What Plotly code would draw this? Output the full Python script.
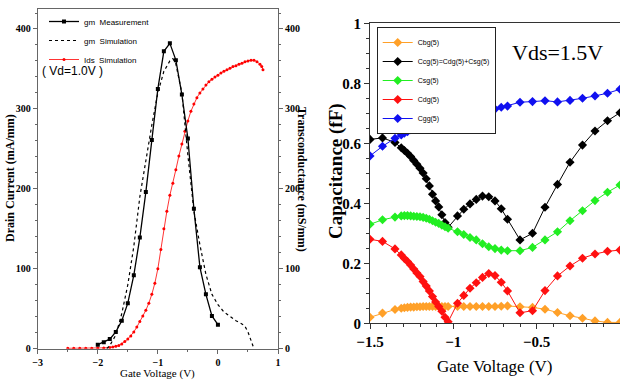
import plotly.graph_objects as go

# ---------------- Left panel data ----------------
gm_meas_v = [-2.0, -1.9, -1.8, -1.7, -1.6, -1.5, -1.4, -1.3, -1.2, -1.1, -1.0,
             -0.9, -0.8, -0.7, -0.6, -0.5, -0.4, -0.3, -0.2, -0.1, 0.0]
gm_meas = [5, 8, 12, 21, 35, 57, 92, 139, 196, 261, 325,
           372, 382, 361, 318, 263, 175, 102, 68, 41, 30]

gm_sim_v = [-1.85, -1.8, -1.7, -1.6, -1.5, -1.4, -1.3, -1.2, -1.1, -1.0, -0.9,
            -0.8, -0.75, -0.7, -0.65, -0.6, -0.5, -0.4, -0.3, -0.2, -0.1, 0.0,
            0.1, 0.2, 0.3, 0.4, 0.45, 0.5, 0.55, 0.6]
gm_sim = [0, 4, 17, 44, 80, 128, 190, 236, 280, 320, 347,
          360, 363, 356, 340, 320, 242, 172, 130, 93, 68, 55,
          46, 40, 35, 31, 28, 21, 10, 0]

ids_v = [-2.5, -2.4, -2.3, -2.2, -2.1, -2.0, -1.9, -1.8, -1.75, -1.7, -1.65,
         -1.6, -1.55, -1.5, -1.45, -1.4, -1.35, -1.3, -1.25, -1.2, -1.15,
         -1.1, -1.05, -1.0, -0.95, -0.9, -0.85, -0.8, -0.75, -0.7, -0.65,
         -0.6, -0.55, -0.5, -0.45, -0.4, -0.35, -0.3, -0.25, -0.2, -0.15,
         -0.1, -0.05, 0.0, 0.05, 0.1, 0.15, 0.2, 0.25, 0.3, 0.35, 0.4,
         0.45, 0.5, 0.55, 0.6, 0.65, 0.7, 0.73, 0.75]
ids = [0.5, 0.5, 0.5, 0.5, 0.6, 0.8, 1, 1.5, 2, 3, 4,
       6, 9, 12, 16, 21, 27, 34, 41, 48, 57,
       68, 82, 100, 124, 150, 172, 192, 207, 224, 241,
       256, 272, 285, 297, 306, 314, 320, 325, 330, 334,
       337, 340, 342, 345, 347, 349, 351, 353, 354, 356, 357,
       359, 360, 361, 361, 359, 356, 353, 349]

# ---------------- Right panel data ----------------
vg = [-1.5, -1.425, -1.35, -1.3125, -1.29375, -1.275, -1.25625, -1.2375,
      -1.21875, -1.2, -1.18125, -1.1625, -1.14375, -1.125, -1.10625,
      -1.0875, -1.06875, -1.05, -1.03125, -0.975, -0.9375, -0.9, -0.8625,
      -0.825, -0.7875, -0.75, -0.7125, -0.675, -0.6, -0.525, -0.45, -0.375,
      -0.3, -0.225, -0.15, -0.075, 0.0]

cbg = [0.02, 0.034, 0.046, 0.05, 0.052, 0.053, 0.054, 0.054,
       0.055, 0.055, 0.056, 0.056, 0.056, 0.056, 0.056,
       0.056, 0.056, 0.056, 0.056, 0.056, 0.056, 0.056, 0.056,
       0.056, 0.056, 0.056, 0.057, 0.058, 0.055, 0.053, 0.047, 0.036,
       0.025, 0.017, 0.008, 0.003, 0.003]
ccg = [0.613, 0.618, 0.603, 0.585, 0.576, 0.567, 0.556, 0.543,
       0.53, 0.517, 0.501, 0.482, 0.458, 0.43, 0.408,
       0.388, 0.362, 0.336, 0.32, 0.358, 0.38, 0.398, 0.413,
       0.424, 0.422, 0.408, 0.382, 0.347, 0.278, 0.3, 0.387, 0.463,
       0.537, 0.594, 0.641, 0.675, 0.702]
csg = [0.33, 0.345, 0.354, 0.358, 0.359, 0.359, 0.358, 0.357,
       0.356, 0.355, 0.353, 0.35, 0.347, 0.342, 0.337,
       0.333, 0.327, 0.322, 0.317, 0.305, 0.296, 0.286, 0.278,
       0.265, 0.255, 0.249, 0.244, 0.242, 0.242, 0.253, 0.278, 0.305,
       0.342, 0.375, 0.409, 0.437, 0.461]
cdg = [0.28, 0.273, 0.248, 0.228, 0.216, 0.206, 0.194, 0.181,
       0.168, 0.156, 0.139, 0.124, 0.108, 0.089, 0.071,
       0.056, 0.04, 0.02, 0.005, 0.067, 0.093, 0.117, 0.135,
       0.153, 0.166, 0.159, 0.137, 0.108, 0.035, 0.042, 0.109, 0.158,
       0.191, 0.217, 0.231, 0.24, 0.244]
cgg = [0.558, 0.59, 0.617, 0.628, 0.634, 0.639, 0.645, 0.65,
       0.654, 0.658, 0.662, 0.665, 0.667, 0.67, 0.673,
       0.675, 0.678, 0.68, 0.683, 0.688, 0.691, 0.696, 0.7,
       0.703, 0.708, 0.714, 0.72, 0.724, 0.737, 0.739, 0.742, 0.738,
       0.743, 0.75, 0.758, 0.767, 0.78]

cap_names = ["Cbg(5)", "Ccg(5)=Cdg(5)+Csg(5)", "Csg(5)", "Cdg(5)", "Cgg(5)"]
cap_colors = ["#FFA028", "#000000", "#22EE22", "#FF1010", "#1010F0"]
cap_series = [cbg, ccg, csg, cdg, cgg]

W, H = 620, 381


def px(x):
    return x / W


def py(y):
    return (H - y) / H


SERIF = "Liberation Serif, Times New Roman, serif"
NARROW = "Liberation Sans Narrow, Arial Narrow, Liberation Sans, sans-serif"

fig = go.Figure()

# left panel traces
fig.add_trace(go.Scatter(
    x=gm_meas_v, y=gm_meas, name="gm  Measurement", mode="lines+markers",
    line=dict(color="black", width=1.3),
    marker=dict(symbol="square", size=4, color="black"),
    xaxis="x", yaxis="y2", legend="legend"))
fig.add_trace(go.Scatter(
    x=gm_sim_v, y=gm_sim, name="gm  Simulation", mode="lines",
    line=dict(color="black", width=1.2, dash="dot"),
    xaxis="x", yaxis="y2", legend="legend"))
fig.add_trace(go.Scatter(
    x=ids_v, y=ids, name="Ids  Simulation", mode="lines+markers",
    line=dict(color="#FF0000", width=0.8),
    marker=dict(symbol="circle", size=3, color="#FF0000"),
    xaxis="x", yaxis="y", legend="legend"))

# right panel traces
for name, col, vals in zip(cap_names, cap_colors, cap_series):
    fig.add_trace(go.Scatter(
        x=vg, y=vals, name=name, mode="lines+markers",
        line=dict(color=col, width=1),
        marker=dict(symbol="diamond", size=7, color=col),
        xaxis="x2", yaxis="y3", legend="legend2"))

lcol = "#666666"
rcol = "#333333"
ltick = dict(family=SERIF, size=10, color="black", weight="bold")
rtick = dict(family=SERIF, size=15, color="black", weight="bold")

fig.update_layout(
    width=W, height=H, margin=dict(l=0, r=0, t=0, b=0, autoexpand=False),
    paper_bgcolor="white", plot_bgcolor="white",
    xaxis=dict(domain=[px(37.7), px(278)], range=[-3, 1], dtick=1,
               showgrid=False, zeroline=False, showline=True, linecolor=lcol,
               linewidth=1, mirror=True, ticks="outside", ticklen=4,
               tickcolor=lcol, tickfont=ltick, automargin=False,
               minor=dict(dtick=0.5, ticks="outside", ticklen=2, tickcolor=lcol),
               anchor="y"),
    yaxis=dict(domain=[py(348.7), py(9)], range=[0, 425], dtick=100,
               showgrid=False, zeroline=False, showline=True, linecolor=lcol,
               linewidth=1, ticks="outside", ticklen=4, tickcolor=lcol,
               tickfont=ltick, automargin=False,
               minor=dict(dtick=20, ticks="outside", ticklen=2, tickcolor=lcol),
               anchor="x"),
    yaxis2=dict(range=[0, 425], dtick=100, overlaying="y", side="right",
                showgrid=False, zeroline=False, showline=True, linecolor=lcol,
                linewidth=1, ticks="outside", ticklen=4, tickcolor=lcol,
                tickfont=ltick, automargin=False,
                minor=dict(dtick=20, ticks="outside", ticklen=2, tickcolor=lcol),
                anchor="x"),
    xaxis2=dict(domain=[px(370), 1.0], range=[-1.5, 0], dtick=0.5,
                showgrid=False, zeroline=False, showline=True, linecolor=rcol,
                linewidth=1, mirror=True, ticks="outside", ticklen=5,
                tickcolor=rcol, tickfont=rtick, automargin=False,
                minor=dict(dtick=0.1, ticks="outside", ticklen=3, tickcolor=rcol),
                anchor="y3"),
    yaxis3=dict(domain=[py(323.3), py(23.3)], range=[0, 1], dtick=0.2,
                showgrid=False, zeroline=False, showline=True, linecolor=rcol,
                linewidth=1, mirror=True, ticks="outside", ticklen=5,
                tickcolor=rcol, tickfont=rtick, automargin=False,
                minor=dict(dtick=0.05, ticks="outside", ticklen=3, tickcolor=rcol),
                anchor="x2"),
    legend=dict(x=px(44), y=py(7), xanchor="left", yanchor="top",
                bgcolor="rgba(0,0,0,0)", borderwidth=0,
                font=dict(family=NARROW, size=8, color="black"),
                itemwidth=30, tracegroupgap=0),
    legend2=dict(x=px(376.7), y=py(27), xanchor="left", yanchor="top",
                 bgcolor="white", bordercolor="#222222", borderwidth=1,
                 font=dict(family=NARROW, size=7, color="black"),
                 itemwidth=30, tracegroupgap=0),
    showlegend=True,
)

annots = [
    dict(text="Drain Current (mA/mm)", x=px(10), y=py(178), textangle=-90,
         font=dict(family=SERIF, size=12, color="black", weight="bold")),
    dict(text="Transconductance (mS/mm)", x=px(302), y=py(179), textangle=90,
         font=dict(family=SERIF, size=12, color="black", weight="bold")),
    dict(text="Gate Voltage (V)", x=px(157), y=py(373),
         font=dict(family=SERIF, size=11, color="black")),
    dict(text="( Vd=1.0V )", x=px(72), y=py(71),
         font=dict(family=NARROW, size=12, color="black")),
    dict(text="Capacitance (fF)", x=px(336), y=py(171), textangle=-90,
         font=dict(family=SERIF, size=19, color="black", weight="bold")),
    dict(text="Gate Voltage (V)", x=px(495), y=py(366),
         font=dict(family=SERIF, size=17, color="black")),
    dict(text="Vds=1.5V", x=px(557), y=py(52),
         font=dict(family=SERIF, size=22, color="black")),
]
for a in annots:
    fig.add_annotation(xref="paper", yref="paper", showarrow=False,
                       xanchor="center", yanchor="middle", **a)

fig.write_html(
    "out.html",
    config={"displayModeBar": False},
    post_script="document.body.style.margin='0';document.body.style.padding='0';"
                "document.documentElement.style.overflow='hidden';",
)
